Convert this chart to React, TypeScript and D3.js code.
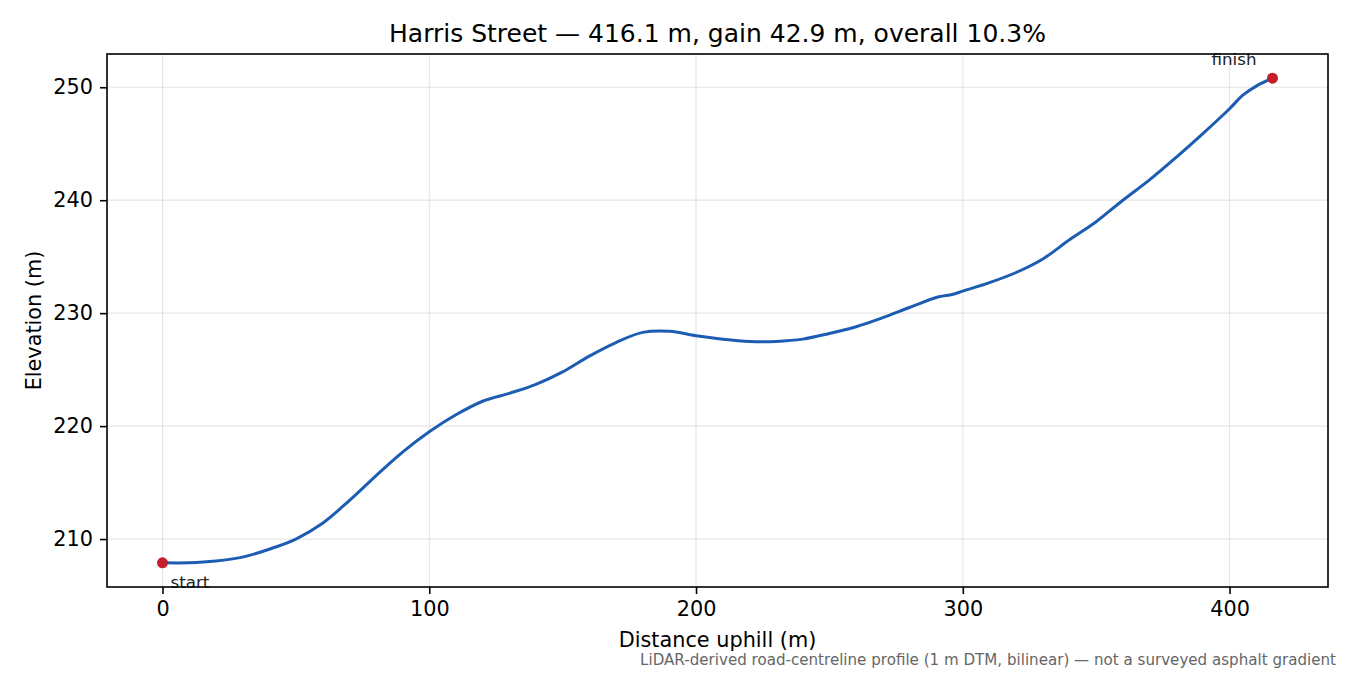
import { useEffect, useRef } from 'react'
import * as d3 from 'd3'

// distance along the street (m) and sampled elevation (m)
const distance = [
  0, 10, 20, 30, 40, 50, 60, 70, 80, 90, 100, 110, 120, 130, 140, 150, 160, 170, 180, 190,
  200, 210, 220, 230, 240, 250, 260, 270, 280, 291, 296, 300, 310, 320, 330, 340, 350, 360,
  370, 380, 390, 400, 405, 410, 416.1,
]
const elevation = [
  207.9, 207.9, 208.05, 208.4, 209.1, 210.0, 211.4, 213.4, 215.6, 217.7, 219.5, 221.0, 222.2,
  222.9, 223.7, 224.8, 226.2, 227.4, 228.3, 228.4, 228.0, 227.7, 227.5, 227.5, 227.7, 228.2,
  228.8, 229.6, 230.5, 231.45, 231.65, 231.95, 232.7, 233.6, 234.8, 236.5, 238.1, 240.0, 241.8,
  243.8, 245.9, 248.1, 249.3, 250.1, 250.8,
]
const xTicks = [0, 100, 200, 300, 400]
const yTicks = [210, 220, 230, 240, 250]

const title = 'Harris Street — 416.1 m, gain 42.9 m, overall 10.3%'
const footnote = 'LiDAR-derived road-centreline profile (1 m DTM, bilinear) — not a surveyed asphalt gradient'

export default function App() {
  const svgRef = useRef<SVGSVGElement>(null)

  useEffect(() => {
    if (!svgRef.current) return
    const svg = d3.select(svgRef.current)
    svg.selectAll('*').remove()

    const width = 1350
    const height = 675
    const margin = { top: 54, right: 22, bottom: 88, left: 107 }
    const innerWidth = width - margin.left - margin.right
    const innerHeight = height - margin.top - margin.bottom
    const font = 'DejaVu Sans, sans-serif'

    const data = distance.map((d, i) => ({ x: d, y: elevation[i] }))
    const xMax = d3.max(distance) || 0
    const [yMin, yMax] = d3.extent(elevation) as [number, number]
    const xPad = xMax * 0.05
    const yPad = (yMax - yMin) * 0.05

    const xScale = d3.scaleLinear().domain([-xPad, xMax + xPad]).range([0, innerWidth])
    const yScale = d3.scaleLinear().domain([yMin - yPad, yMax + yPad]).range([innerHeight, 0])

    svg.attr('width', width).attr('height', height)
    svg.append('rect').attr('width', width).attr('height', height).attr('fill', '#fff')

    const g = svg.append('g').attr('transform', `translate(${margin.left},${margin.top})`)

    // grid
    g.selectAll('.gx')
      .data(xTicks)
      .join('line')
      .attr('x1', d => xScale(d))
      .attr('x2', d => xScale(d))
      .attr('y1', 0)
      .attr('y2', innerHeight)
      .attr('stroke', '#000')
      .attr('stroke-opacity', 0.1)
      .attr('stroke-width', 1.2)
    g.selectAll('.gy')
      .data(yTicks)
      .join('line')
      .attr('x1', 0)
      .attr('x2', innerWidth)
      .attr('y1', d => yScale(d))
      .attr('y2', d => yScale(d))
      .attr('stroke', '#000')
      .attr('stroke-opacity', 0.1)
      .attr('stroke-width', 1.2)

    // profile line
    const line = d3
      .line<{ x: number; y: number }>()
      .x(d => xScale(d.x))
      .y(d => yScale(d.y))
      .curve(d3.curveCatmullRom.alpha(0.5))

    g.append('path')
      .datum(data)
      .attr('d', line)
      .attr('fill', 'none')
      .attr('stroke', '#1c5db3')
      .attr('stroke-width', 3)
      .attr('stroke-linejoin', 'round')

    // start / finish markers
    const first = data[0]
    const last = data[data.length - 1]
    ;[first, last].forEach(p => {
      g.append('circle')
        .attr('cx', xScale(p.x))
        .attr('cy', yScale(p.y))
        .attr('r', 5.5)
        .attr('fill', '#c41e2a')
    })
    g.append('text')
      .attr('x', xScale(first.x) + 8)
      .attr('y', yScale(first.y) + 25)
      .attr('font-family', font)
      .attr('font-size', 16.7)
      .attr('fill', '#222')
      .text('start')
    g.append('text')
      .attr('x', xScale(last.x) - 16)
      .attr('y', yScale(last.y) - 13)
      .attr('text-anchor', 'end')
      .attr('font-family', font)
      .attr('font-size', 16.7)
      .attr('fill', '#222')
      .text('finish')

    // axes
    const xAxis = d3.axisBottom(xScale).tickValues(xTicks).tickSize(7).tickPadding(7).tickFormat(d3.format('d'))
    const yAxis = d3.axisLeft(yScale).tickValues(yTicks).tickSize(7).tickPadding(7).tickFormat(d3.format('d'))

    const gx = g.append('g').attr('transform', `translate(0,${innerHeight})`).call(xAxis)
    const gy = g.append('g').call(yAxis)
    ;[gx, gy].forEach(a => {
      a.select('.domain').remove()
      a.selectAll('line').attr('stroke', '#000').attr('stroke-width', 1.6)
      a.selectAll('text').attr('font-family', font).attr('font-size', 20.8).attr('fill', '#000')
    })

    // frame
    g.append('rect')
      .attr('width', innerWidth)
      .attr('height', innerHeight)
      .attr('fill', 'none')
      .attr('stroke', '#000')
      .attr('stroke-width', 1.6)

    // labels
    svg.append('text')
      .attr('x', margin.left + innerWidth / 2)
      .attr('y', 42)
      .attr('text-anchor', 'middle')
      .attr('font-family', font)
      .attr('font-size', 25)
      .text(title)

    svg.append('text')
      .attr('x', margin.left + innerWidth / 2)
      .attr('y', 647)
      .attr('text-anchor', 'middle')
      .attr('font-family', font)
      .attr('font-size', 20.8)
      .text('Distance uphill (m)')

    svg.append('text')
      .attr('transform', `translate(41,${margin.top + innerHeight / 2}) rotate(-90)`)
      .attr('text-anchor', 'middle')
      .attr('font-family', font)
      .attr('font-size', 20.8)
      .text('Elevation (m)')

    svg.append('text')
      .attr('x', 1336)
      .attr('y', 665)
      .attr('text-anchor', 'end')
      .attr('font-family', font)
      .attr('font-size', 15.1)
      .attr('fill', '#666')
      .text(footnote)
  }, [])

  return <svg ref={svgRef} style={{ display: 'block', position: 'absolute', left: 0, top: 0 }} />
}
